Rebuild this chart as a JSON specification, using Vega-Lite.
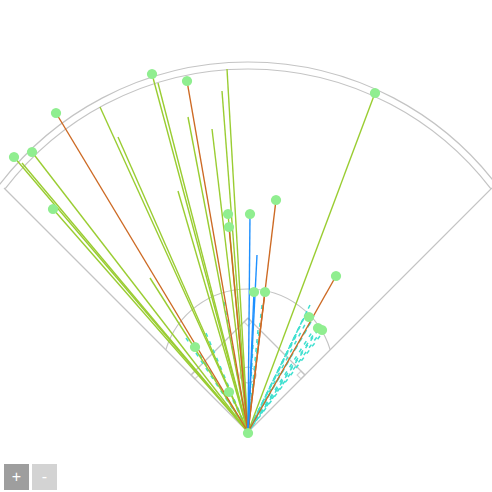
{
  "$schema": "https://vega.github.io/schema/vega-lite/v6.json",
  "width": 492,
  "height": 492,
  "padding": 0,
  "autosize": "none",
  "config": {"view": {"stroke": null}},
  "datasets": {
    "fieldLines": [
      {"part": "left foul line", "x": 0, "y": 0, "x2": -244, "y2": 244},
      {"part": "right foul line", "x": 0, "y": 0, "x2": 244, "y2": 244},
      {"part": "first to second", "x": 57, "y": 57, "x2": 0, "y2": 114},
      {"part": "second to third", "x": 0, "y": 114, "x2": -57, "y2": 57}
    ],
    "fieldArcs": [
      {"part": "warning track", "cx": 0, "cy": 57, "r": 313, "t1": -52.5, "t2": 52.5},
      {"part": "outfield fence", "cx": 0, "cy": 57, "r": 306, "t1": -52.5, "t2": 52.5},
      {"part": "infield grass", "cx": 0, "cy": 57, "r": 86, "t1": -73, "t2": 73},
      {"part": "mound", "cx": 0, "cy": 57, "r": 8, "t1": -180, "t2": 180}
    ],
    "bases": [
      {"base": "first", "x": 53, "y": 57},
      {"base": "second", "x": 0, "y": 110},
      {"base": "third", "x": -53, "y": 57}
    ],
    "balls": [
      {"kind": "ground", "x": 62, "y": 127, "hit": false},
      {"kind": "ground", "x": 59, "y": 121, "hit": false},
      {"kind": "ground", "x": 66, "y": 116, "hit": false},
      {"kind": "ground", "x": 63, "y": 110, "hit": false},
      {"kind": "ground", "x": 68, "y": 106, "hit": false},
      {"kind": "ground", "x": 70, "y": 102, "hit": false},
      {"kind": "ground", "x": 72, "y": 96, "hit": false},
      {"kind": "ground", "x": 56, "y": 114, "hit": false},
      {"kind": "ground", "x": 52, "y": 106, "hit": false},
      {"kind": "ground", "x": 48, "y": 96, "hit": false},
      {"kind": "ground", "x": 61, "y": 115, "hit": true},
      {"kind": "ground", "x": 70, "y": 104, "hit": true},
      {"kind": "ground", "x": 74, "y": 102, "hit": true},
      {"kind": "ground", "x": 14, "y": 127, "hit": false},
      {"kind": "ground", "x": 10, "y": 102, "hit": false},
      {"kind": "ground", "x": 5, "y": 87, "hit": false},
      {"kind": "ground", "x": -62, "y": 94, "hit": false},
      {"kind": "ground", "x": -42, "y": 99, "hit": false},
      {"kind": "ground", "x": -24, "y": 130, "hit": false},
      {"kind": "ground", "x": -53, "y": 85, "hit": true},
      {"kind": "ground", "x": -19, "y": 40, "hit": true},
      {"kind": "ground", "x": 0, "y": -1, "hit": true},
      {"kind": "fly", "x": -234, "y": 275, "hit": true},
      {"kind": "fly", "x": -226, "y": 269, "hit": false},
      {"kind": "fly", "x": -216, "y": 280, "hit": true},
      {"kind": "fly", "x": -195, "y": 223, "hit": true},
      {"kind": "fly", "x": -148, "y": 325, "hit": false},
      {"kind": "fly", "x": -130, "y": 295, "hit": false},
      {"kind": "fly", "x": -96, "y": 358, "hit": true},
      {"kind": "fly", "x": -90, "y": 349, "hit": false},
      {"kind": "fly", "x": -60, "y": 315, "hit": false},
      {"kind": "fly", "x": -70, "y": 241, "hit": false},
      {"kind": "fly", "x": -36, "y": 303, "hit": false},
      {"kind": "fly", "x": -26, "y": 341, "hit": false},
      {"kind": "fly", "x": -21, "y": 363, "hit": false},
      {"kind": "fly", "x": 127, "y": 339, "hit": true},
      {"kind": "fly", "x": -20, "y": 218, "hit": true},
      {"kind": "fly", "x": -98, "y": 154, "hit": false},
      {"kind": "liner", "x": -192, "y": 319, "hit": true},
      {"kind": "liner", "x": -61, "y": 351, "hit": true},
      {"kind": "liner", "x": 28, "y": 232, "hit": true},
      {"kind": "liner", "x": 88, "y": 156, "hit": true},
      {"kind": "liner", "x": -19, "y": 205, "hit": true},
      {"kind": "liner", "x": 17, "y": 140, "hit": true},
      {"kind": "popup", "x": 2, "y": 218, "hit": true},
      {"kind": "popup", "x": 9, "y": 177, "hit": false},
      {"kind": "popup", "x": 6, "y": 140, "hit": true}
    ],
    "buttons": [
      {"button": "zoom in", "label": "+", "x": -244, "x2": -219, "y": -32, "y2": -58, "tx": -231.5, "ty": -45},
      {"button": "zoom out", "label": "-", "x": -216, "x2": -191, "y": -32, "y2": -58, "tx": -203.5, "ty": -45}
    ]
  },
  "layer": [
    {
      "data": {"name": "fieldLines"},
      "mark": {"type": "rule", "stroke": "#c4c4c4", "strokeWidth": 1.2},
      "encoding": {
        "x": {"field": "x", "type": "quantitative", "scale": {"domain": [-248, 244], "nice": false, "zero": false}, "axis": null},
        "y": {"field": "y", "type": "quantitative", "scale": {"domain": [-60, 432], "nice": false, "zero": false}, "axis": null},
        "x2": {"field": "x2"},
        "y2": {"field": "y2"}
      }
    },
    {
      "data": {"name": "fieldArcs"},
      "mark": {"type": "arc", "fill": null, "stroke": "#c4c4c4", "strokeWidth": 1.2},
      "encoding": {
        "x": {"field": "cx", "type": "quantitative"},
        "y": {"field": "cy", "type": "quantitative"},
        "theta": {"field": "t1", "type": "quantitative", "stack": null, "scale": {"type": "linear", "domain": [-180, 180], "range": [-3.14159265, 3.14159265]}},
        "theta2": {"field": "t2"},
        "radius": {"field": "r", "type": "quantitative", "scale": {"type": "linear", "domain": [0, 492], "range": [0, 492], "zero": true}},
        "radius2": {"field": "r"}
      }
    },
    {
      "data": {"name": "bases"},
      "mark": {"type": "point", "shape": "square", "angle": 45, "size": 30, "filled": false, "stroke": "#c4c4c4", "strokeWidth": 1.2},
      "encoding": {
        "x": {"field": "x", "type": "quantitative"},
        "y": {"field": "y", "type": "quantitative"}
      }
    },
    {
      "data": {"name": "balls"},
      "transform": [{"filter": "datum.kind === 'ground'"}],
      "mark": {"type": "rule", "stroke": "#40e0d0", "strokeWidth": 1.5, "strokeDash": [4, 5]},
      "encoding": {
        "x": {"field": "x", "type": "quantitative"},
        "y": {"field": "y", "type": "quantitative"},
        "x2": {"datum": 0},
        "y2": {"datum": 0}
      }
    },
    {
      "data": {"name": "balls"},
      "transform": [{"filter": "datum.kind !== 'ground'"}],
      "mark": {"type": "rule", "strokeWidth": 1.4},
      "encoding": {
        "x": {"field": "x", "type": "quantitative"},
        "y": {"field": "y", "type": "quantitative"},
        "x2": {"datum": 0},
        "y2": {"datum": 0},
        "color": {"field": "kind", "type": "nominal", "legend": null, "scale": {"domain": ["fly", "liner", "popup"], "range": ["#9acd32", "#cd6a24", "#1e90ff"]}}
      }
    },
    {
      "data": {"name": "balls"},
      "transform": [{"filter": "datum.hit"}],
      "mark": {"type": "point", "shape": "circle", "filled": true, "size": 105, "color": "#90ee90", "opacity": 1},
      "encoding": {
        "x": {"field": "x", "type": "quantitative"},
        "y": {"field": "y", "type": "quantitative"}
      }
    },
    {
      "data": {"name": "buttons"},
      "mark": {"type": "rect"},
      "encoding": {
        "x": {"field": "x", "type": "quantitative"},
        "x2": {"field": "x2"},
        "y": {"field": "y", "type": "quantitative"},
        "y2": {"field": "y2"},
        "fill": {"field": "button", "type": "nominal", "legend": null, "scale": {"domain": ["zoom in", "zoom out"], "range": ["#9e9e9e", "#d3d3d3"]}}
      }
    },
    {
      "data": {"name": "buttons"},
      "mark": {"type": "text", "color": "white", "fontSize": 16, "font": "Liberation Sans", "align": "center", "baseline": "middle"},
      "encoding": {
        "x": {"field": "tx", "type": "quantitative"},
        "y": {"field": "ty", "type": "quantitative"},
        "text": {"field": "label"}
      }
    }
  ]
}
